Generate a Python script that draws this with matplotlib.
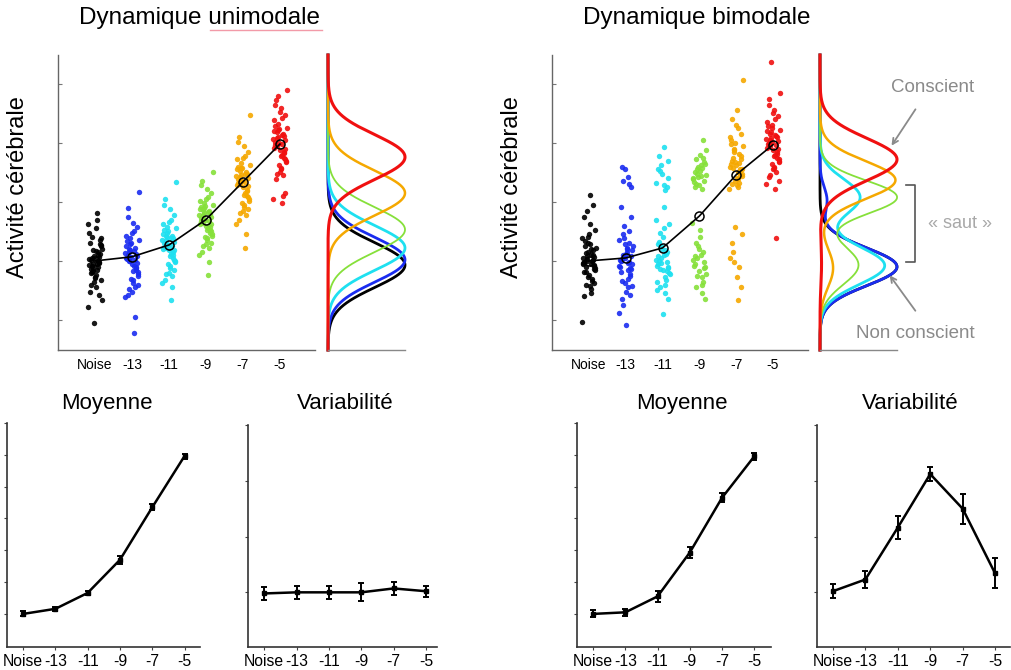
import numpy as np
import matplotlib
matplotlib.use('Agg')
import matplotlib.pyplot as plt
from matplotlib.lines import Line2D

plt.rcParams['font.family'] = ['Liberation Sans', 'DejaVu Sans']

W, H = 1012, 670

conds = ['Noise', '-13', '-11', '-9', '-7', '-5']
colors = ['#000000', '#1a2cf0', '#1ee0f0', '#86e03a', '#f5a800', '#f01010']

# horizontal jitter of the points inside each column
jit = [-0.12, 0.05, 0.18, -0.03, 0.09, -0.17, 0.14, 0.01, -0.08, 0.11,
       -0.15, 0.03, 0.07, -0.05, 0.16, -0.10, 0.00, 0.12, -0.19, 0.06,
       -0.02, 0.15, -0.13, 0.08, -0.06, 0.19, -0.09, 0.04, -0.16, 0.10,
       0.02, -0.11, 0.13, -0.04, 0.17, -0.14, 0.06, -0.07, 0.11, -0.01,
       0.15, -0.18, 0.03, -0.12, 0.08, -0.03, 0.14, -0.09, 0.05, -0.06]

# unimodal clouds
uni_noise = [1.02, 0.85, 1.21, 0.64, 1.10, 0.93, 1.35, 0.71, 1.05, 0.98, 1.48, 0.55, 1.15, 0.88, 1.27, 0.79, 1.01,
             0.42, 1.62, 0.95, 1.08, 0.67, 1.31, 0.90, 1.19, 0.33, 1.41, 0.76, 1.04, 0.97, 1.55, 0.60, 1.12, 0.83,
             1.25, 0.48, 1.81, 0.92, 1.06, 0.72, 1.38, 0.22, 1.16, 0.87, 0.99, -0.05, 1.29, 0.81, 1.70, 0.94]
uni_m13 = [1.10, 0.92, 1.35, 0.70, 1.22, 1.05, 1.58, 0.48, 1.15, 0.85, 1.42, 0.62, 1.01, 1.28, 0.77, 1.90, 0.95,
           1.12, 0.38, 1.50, 1.07, 0.81, 1.33, 0.56, 1.18, 2.17, 0.99, 0.68, 1.25, 0.88, 1.65, 0.43, 1.09, 1.38,
           0.74, 1.03, -0.22, 1.20, 0.90, 1.47, 0.60, 1.14, 0.83, 1.75, 0.05, 1.30, 0.97, 0.52, 1.17, 1.00]
uni_m11 = [1.30, 1.12, 1.55, 0.95, 1.42, 1.20, 1.78, 0.80, 1.35, 1.05, 1.62, 0.88, 1.25, 1.48, 1.00, 2.05, 1.18,
           1.38, 0.62, 1.70, 1.27, 1.02, 1.52, 0.75, 1.40, 2.34, 1.22, 0.92, 1.45, 1.10, 1.88, 0.68, 1.32, 1.58,
           0.98, 1.24, 0.34, 1.43, 1.15, 1.66, 0.85, 1.36, 1.08, 1.95, 0.55, 1.50, 1.19, 0.78, 1.39, 1.28]
uni_m9 = [1.72, 1.55, 1.95, 1.40, 1.85, 1.62, 2.15, 1.28, 1.78, 1.48, 2.02, 1.35, 1.68, 1.90, 1.45, 2.35, 1.60,
          1.80, 1.10, 2.08, 1.70, 1.50, 1.92, 1.22, 1.82, 2.50, 1.65, 1.38, 1.88, 1.52, 2.22, 1.15, 1.75, 1.98,
          1.42, 1.67, 0.76, 1.86, 1.58, 2.05, 1.30, 1.77, 1.53, 2.28, 0.98, 1.93, 1.63, 1.25, 1.83, 1.71]
uni_m7 = [2.38, 2.15, 2.62, 1.98, 2.50, 2.28, 2.85, 1.85, 2.42, 2.10, 2.72, 1.92, 2.33, 2.58, 2.05, 3.10, 2.25,
          2.47, 1.62, 2.78, 2.36, 2.08, 2.60, 1.78, 2.45, 3.47, 2.30, 1.95, 2.55, 2.18, 2.95, 1.70, 2.40, 2.66,
          2.02, 2.32, 1.22, 2.52, 2.20, 2.75, 1.88, 2.44, 2.12, 3.02, 1.45, 2.57, 2.27, 1.82, 2.48, 2.35]
uni_m5 = [3.02, 2.80, 3.25, 2.62, 3.15, 2.92, 3.48, 2.50, 3.08, 2.75, 3.38, 2.58, 2.98, 3.22, 2.70, 3.72, 2.88,
          3.12, 2.05, 3.42, 3.00, 2.72, 3.28, 2.45, 3.10, 3.90, 2.95, 2.55, 3.20, 2.85, 3.60, 2.38, 3.05, 3.32,
          2.68, 2.97, 1.98, 3.18, 2.83, 3.52, 2.15, 3.07, 2.78, 3.65, 2.10, 3.24, 2.90, 2.48, 3.14, 3.80]

# bimodal clouds
bi_noise = [0.98, 1.12, 0.84, 1.30, 0.70, 1.05, 0.91, 1.45, 0.60, 1.18, 0.95, 1.62, 0.52, 1.08, 0.88, 1.25, 0.76,
            1.02, 1.38, 0.45, 1.15, 0.93, 1.75, 0.66, 1.00, 1.22, 0.81, 2.12, 0.97, 1.10, 0.58, 1.33, 0.86, 1.04,
            1.52, 0.40, 1.20, 0.90, 1.95, 0.73, 1.07, -0.03, 1.28, 0.82, 0.99, 1.40, 0.63, 1.14, 0.94, 1.85]
bi_m13 = [1.00, 0.85, 1.18, 0.62, 1.30, 0.92, 1.08, 0.48, 1.45, 0.78, 1.02, 1.22, 0.70, 1.60, 0.95, 0.35, 1.12,
          0.88, 1.35, 0.55, 1.05, 1.75, 0.82, 0.98, 0.25, 1.25, 0.66, 1.15, 0.90, 1.50, -0.08, 1.03, 0.75, 1.38,
          0.58, 1.92, 0.96, 1.10, 0.42, 1.28, 0.87, 0.12, 1.20, 0.99,
          2.30, 2.55, 2.25, 2.60, 2.42, 2.35]
bi_m11 = [0.95, 1.10, 0.80, 1.25, 0.68, 1.02, 0.88, 1.40, 0.55, 1.15, 0.92, 1.55, 0.72, 1.05, 0.35, 1.32, 0.85,
          0.98, 1.70, 0.60, 1.20, 0.90, 1.08, 0.45, 1.48, 0.78, 1.00, 1.92, 0.65, 1.12, 0.10, 1.28, 0.83, 0.96,
          1.62, 0.50, 1.18, 0.87,
          2.25, 2.48, 2.70, 2.32, 2.93, 2.55, 2.20, 2.62, 2.40, 2.78, 2.28, 2.52]
bi_m9 = [0.95, 1.10, 0.78, 1.25, 0.65, 1.02, 0.88, 1.40, 0.55, 1.15, 0.92, 1.52, 0.72, 1.05, 0.35, 1.30, 0.83,
         0.98, 1.64, 0.60, 1.20, 0.90, 1.08, 0.45, 0.75,
         2.45, 2.30, 2.62, 2.38, 2.75, 2.52, 2.25, 2.68, 2.42, 2.88, 2.33, 2.57, 2.48, 3.05, 2.28, 2.65, 2.40,
         2.80, 2.50, 2.22, 2.60, 2.35, 2.72, 2.44, 2.55]
bi_m7 = [2.70, 2.50, 2.95, 2.35, 2.82, 2.60, 3.15, 2.28, 2.75, 2.45, 3.05, 2.40, 2.66, 2.90, 2.55, 3.40, 2.62,
         2.78, 2.22, 3.25, 2.68, 2.48, 2.98, 2.32, 2.85, 4.07, 2.58, 2.38, 3.10, 2.52, 3.56, 2.30, 2.73, 3.00,
         2.44, 2.65, 2.26, 2.88, 2.56, 3.30,
         1.45, 1.05, 0.72, 1.30, 0.90, 1.58, 0.55, 1.15, 0.33, 0.98]
bi_m5 = [3.00, 2.80, 3.22, 2.65, 3.12, 2.92, 3.45, 2.55, 3.05, 2.75, 3.35, 2.60, 2.97, 3.18, 2.70, 3.65, 2.88,
         3.10, 2.30, 3.40, 3.02, 2.72, 3.28, 2.50, 3.08, 3.85, 2.95, 2.58, 3.20, 2.84, 3.55, 2.42, 3.04, 3.30,
         2.68, 2.98, 2.22, 3.15, 2.82, 3.50, 2.35, 3.06, 2.78, 3.75, 1.39, 3.25, 2.90, 2.45, 3.14, 4.37]

uni_clouds = [uni_noise, uni_m13, uni_m11, uni_m9, uni_m7, uni_m5]
bi_clouds = [bi_noise, bi_m13, bi_m11, bi_m9, bi_m7, bi_m5]

uni_means = [1.0, 1.07, 1.27, 1.70, 2.34, 2.98]
bi_means = [1.0, 1.05, 1.22, 1.76, 2.46, 2.97]

# distributions drawn at the side (peak position, width, height)
uni_peak = [0.93, 1.02, 1.22, 1.53, 2.15, 2.76]
uni_sd = [0.38, 0.38, 0.38, 0.38, 0.38, 0.38]
bi_lo_pos = [0.90, 0.90, 0.92, 0.93, 0.88, 0.95]
bi_lo_sd = [0.32, 0.32, 0.32, 0.33, 0.33, 0.35]
bi_lo_amp = [1.0, 1.0, 0.84, 0.50, 0.17, 0.02]
bi_hi_pos = [2.03, 2.03, 2.08, 2.08, 2.37, 2.72]
bi_hi_sd = [0.30, 0.22, 0.30, 0.28, 0.32, 0.36]
bi_hi_amp = [0.0, 0.09, 0.52, 1.0, 0.98, 1.0]
curve_lw = [2.0, 2.0, 2.0, 1.3, 1.8, 2.2]

# bottom panels
moy_uni = [0.0, 0.16, 0.66, 1.70, 3.35, 4.96]
moy_uni_err = [0.08, 0.07, 0.06, 0.12, 0.10, 0.08]
var_uni = [-0.02, 0.0, 0.0, 0.0, 0.07, 0.02]
var_uni_err = [0.12, 0.12, 0.12, 0.16, 0.12, 0.10]
moy_bi = [0.0, 0.05, 0.55, 1.93, 3.65, 4.95]
moy_bi_err = [0.11, 0.11, 0.16, 0.18, 0.14, 0.11]
var_bi = [0.02, 0.23, 1.16, 2.12, 1.50, 0.34]
var_bi_err = [0.13, 0.16, 0.21, 0.13, 0.27, 0.27]


def rect(x0, y0, x1, y1):
    return [x0 / W, 1 - y1 / H, (x1 - x0) / W, (y1 - y0) / H]


def fx(x):
    return x / W


def fy(y):
    return 1 - y / H


fig = plt.figure(figsize=(W / 100, H / 100), dpi=100)
xpos = np.arange(len(conds))


def scatter_panel(rc, clouds, means):
    ax = fig.add_axes(rc)
    for i, ys in enumerate(clouds):
        xs = [xpos[i] + j for j in jit[:len(ys)]]
        ax.scatter(xs, ys, s=15, color=colors[i], alpha=0.9, linewidths=0)
    ax.plot(xpos, means, color='black', lw=1.2, marker='o', ms=6.5,
            mfc='none', mec='black', mew=1.1)
    ax.set_xlim(-1.0, 5.95)
    ax.set_ylim(-0.51, 4.49)
    ax.set_yticks([0, 1, 2, 3, 4])
    ax.set_yticklabels([])
    ax.set_xticks(xpos)
    ax.set_xticklabels(conds, fontsize=10)
    ax.tick_params(axis='y', direction='in', length=3, color='#777')
    ax.tick_params(axis='x', length=0, pad=6)
    for s in ['top', 'right']:
        ax.spines[s].set_visible(False)
    for s in ['left', 'bottom']:
        ax.spines[s].set_color('#666')
        ax.spines[s].set_linewidth(1)
    return ax


def density_panel(rc, curves):
    ax = fig.add_axes(rc)
    yy = np.linspace(-0.51, 4.49, 500)
    for i, (lo, hi, lw) in enumerate(curves):
        xx = np.zeros_like(yy)
        for pos, sd, amp in (lo, hi):
            xx = xx + amp * np.exp(-0.5 * ((yy - pos) / sd) ** 2)
        ax.plot(xx, yy, color=colors[i], lw=lw, clip_on=False)
    ax.set_xlim(0, 1.0)
    ax.set_ylim(-0.51, 4.49)
    ax.set_xticks([])
    ax.set_yticks([])
    for s in ['top', 'right', 'left']:
        ax.spines[s].set_visible(False)
    ax.spines['bottom'].set_color('#888')
    ax.spines['bottom'].set_linewidth(1)
    ax.patch.set_alpha(0)
    return ax


def line_panel(rc, vals, errs, ylim, yticks, xlim):
    ax = fig.add_axes(rc)
    ax.errorbar(xpos, vals, yerr=errs, color='black', lw=1.8, marker='s', ms=3,
                elinewidth=1.4, capsize=2.5, capthick=1.4)
    ax.set_xlim(*xlim)
    ax.set_ylim(*ylim)
    ax.set_yticks(yticks)
    ax.set_yticklabels([])
    ax.set_xticks(xpos)
    ax.set_xticklabels(conds, fontsize=11.3)
    ax.tick_params(axis='both', direction='out', length=2, color='#444')
    ax.tick_params(axis='x', pad=3)
    for s in ['top', 'right']:
        ax.spines[s].set_visible(False)
    for s in ['left', 'bottom']:
        ax.spines[s].set_color('#333')
        ax.spines[s].set_linewidth(1.2)
    return ax


# top row
scatter_panel(rect(58, 55, 315, 350), uni_clouds, uni_means)
density_panel(rect(328, 55, 405, 350),
              [((uni_peak[i], uni_sd[i], 1.0), (0, 1, 0.0), curve_lw[i]) for i in range(6)])
scatter_panel(rect(552, 55, 808, 350), bi_clouds, bi_means)
density_panel(rect(820, 55, 897, 350),
              [((bi_lo_pos[i], bi_lo_sd[i], bi_lo_amp[i]), (bi_hi_pos[i], bi_hi_sd[i], bi_hi_amp[i]), curve_lw[i])
               for i in range(6)])

fig.text(fx(200), fy(18), 'Dynamique unimodale', fontsize=17.5, ha='center', va='center')
fig.text(fx(697), fy(18), 'Dynamique bimodale', fontsize=17.5, ha='center', va='center')
fig.add_artist(Line2D([fx(210), fx(322)], [fy(30), fy(30)], color='#f29aa8', lw=1))
fig.text(fx(18), fy(187), 'Activité cérébrale', fontsize=17, rotation=90, ha='center', va='center')
fig.text(fx(512), fy(187), 'Activité cérébrale', fontsize=17, rotation=90, ha='center', va='center')

# annotations around the bimodal distributions
gray = '#8a8a8a'
fig.text(fx(933), fy(88), 'Conscient', fontsize=13.5, color=gray, ha='center', va='center')
fig.text(fx(915), fy(333), 'Non conscient', fontsize=13.5, color=gray, ha='center', va='center')
fig.text(fx(960), fy(224), '« saut »', fontsize=13, color='#a8a8a8', ha='center', va='center')
fig.add_artist(plt.Annotation('', xy=(fx(890), fy(148)), xytext=(fx(917), fy(107)),
                              xycoords='figure fraction', textcoords='figure fraction',
                              arrowprops=dict(arrowstyle='->', color=gray, lw=1.3)))
fig.add_artist(plt.Annotation('', xy=(fx(888), fy(273)), xytext=(fx(917), fy(313)),
                              xycoords='figure fraction', textcoords='figure fraction',
                              arrowprops=dict(arrowstyle='->', color=gray, lw=1.3)))
fig.add_artist(Line2D([fx(906), fx(915), fx(915), fx(906)], [fy(185), fy(185), fy(262), fy(262)],
                      color='#555', lw=1.2))

# bottom row
line_panel(rect(7, 423, 200, 647), moy_uni, moy_uni_err, (-1.04, 6.0), range(7), (-0.5, 5.48))
line_panel(rect(248, 425, 437, 647), var_uni, var_uni_err, (-0.98, 3.0), range(4), (-0.5, 5.34))
line_panel(rect(577, 423, 771, 647), moy_bi, moy_bi_err, (-1.04, 6.0), range(7), (-0.5, 5.52))
line_panel(rect(817, 425, 1010, 647), var_bi, var_bi_err, (-0.98, 3.0), range(4), (-0.49, 5.46))

for x, t in [(107, 'Moyenne'), (345, 'Variabilité'), (682, 'Moyenne'), (910, 'Variabilité')]:
    fig.text(fx(x), fy(403), t, fontsize=16, ha='center', va='center')

fig.savefig('out.png', dpi=100)
